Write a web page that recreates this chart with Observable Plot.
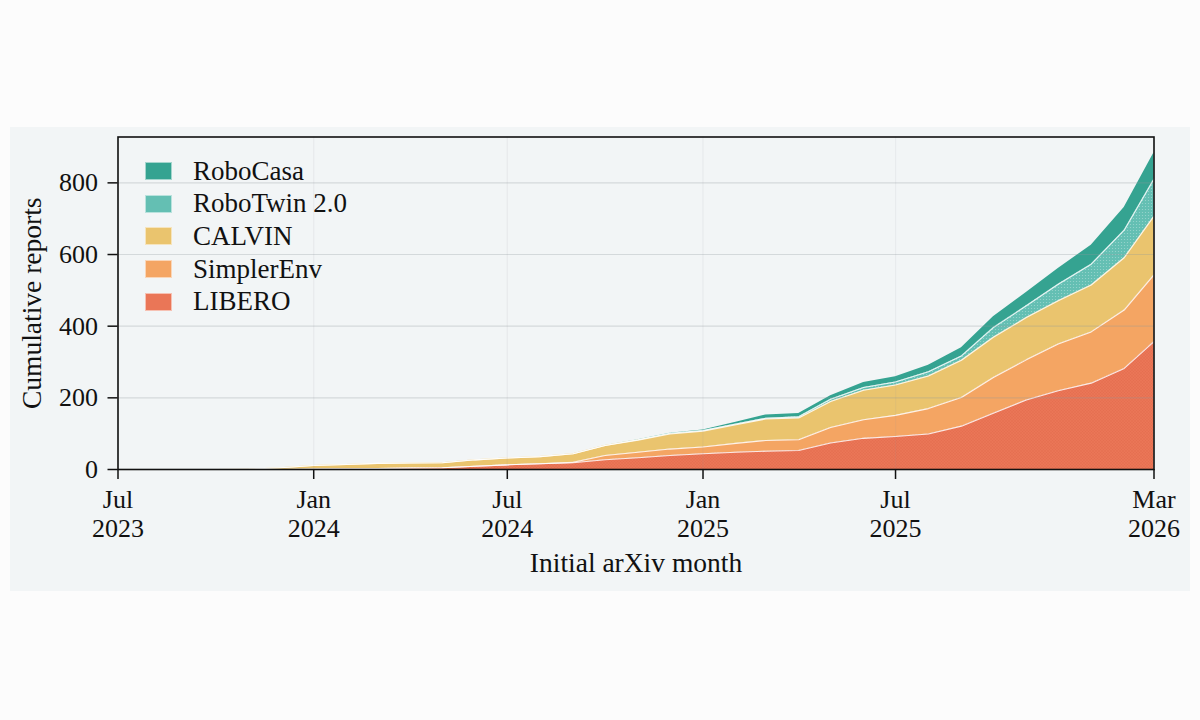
<!DOCTYPE html>
<html>
<head>
<meta charset="utf-8">
<script src="https://cdn.jsdelivr.net/npm/d3@7"></script>
<script src="https://cdn.jsdelivr.net/npm/@observablehq/plot@0.6"></script>
<style>
  html, body { margin: 0; padding: 0; background: #fcfcfc; width: 1200px; height: 720px; overflow: hidden; }
  #panel { position: absolute; left: 10px; top: 127px; width: 1180px; height: 464px; background: #f2f5f6; }
  #chart { position: absolute; left: 0; top: 0; }
  #legend { position: absolute; left: 135px; top: 28px; font-family: "Liberation Serif", serif; font-size: 27px; color: #111; }
  .row { display: flex; align-items: center; height: 32.6px; }
  .sw { width: 25px; height: 16px; border: 1px solid rgba(255,255,255,0.55); margin-right: 21px; }
</style>
</head>
<body>
<div id="panel"><div id="chart"></div><div id="legend"></div></div>
<script>
// ---- data ----
const months = ["2023-10","2023-11","2023-12","2024-01","2024-02","2024-03","2024-04","2024-05","2024-06","2024-07",
  "2024-08","2024-09","2024-10","2024-11","2024-12","2025-01","2025-02","2025-03","2025-04","2025-05",
  "2025-06","2025-07","2025-08","2025-09","2025-10","2025-11","2025-12","2026-01","2026-02","2026-03"];
const libero     = [0,0,0,1,2,3,4,5,9,13,16,19,27,33,39,44,48,51,53,74,87,92,99,121,157,194,220,241,282,357];
const simplerEnv = [0,0,0,0,0,0,0,0,0,0,0,1,12,15,18,19,25,30,30,43,52,59,71,80,100,112,130,143,163,186];
const calvin     = [0,1,5,10,12,14,14,14,18,19,20,24,28,34,42,44,52,60,61,73,82,85,91,104,112,118,121,131,146,164];
const roboTwin   = [0,0,0,0,0,0,0,0,0,0,0,0,0,1,2,2,2,2,3,6,8,8,12,12,27,33,46,58,77,104];
const roboCasa   = [0,0,0,0,0,0,0,0,0,0,0,0,0,0,0,1,5,9,9,10,14,15,18,23,30,37,44,53,63,73];

const seriesNames = ["LIBERO","SimplerEnv","CALVIN","RoboTwin 2.0","RoboCasa"];
const seriesValues = [libero, simplerEnv, calvin, roboTwin, roboCasa];
const legendOrder = ["RoboCasa","RoboTwin 2.0","CALVIN","SimplerEnv","LIBERO"];
const colors = {"LIBERO":"#ea7657","SimplerEnv":"#f4a563","CALVIN":"#eac46e","RoboTwin 2.0":"#64bfb3","RoboCasa":"#35a391"};
const patterns = {"LIBERO":"url(#xhatch)","RoboTwin 2.0":"url(#dots)"};

const xTickLabels = ["2023-07","2024-01","2024-07","2025-01","2025-07","2026-03"];
const yTicks = [0,200,400,600,800];
const xDomain = ["2023-07","2026-03"];
const yMax = 928;

// ---- build table ----
const parse = d3.utcParse("%Y-%m");
const table = [];
seriesNames.forEach((s, k) => {
  months.forEach((m, i) => table.push({date: parse(m), series: s, value: seriesValues[k][i]}));
});
const tableLines = table.filter(d => d.series !== "RoboCasa");
const xTicks = xTickLabels.map(parse);
const fmt = d3.utcFormat("%b");
const fmtY = d3.utcFormat("%Y");

const chart = Plot.plot({
  width: 1180,
  height: 464,
  marginLeft: 107.5,
  marginRight: 36.5,
  marginTop: 9.5,
  marginBottom: 122,
  style: {fontFamily: "'Liberation Serif', serif", fontSize: "26px", color: "#111", background: "transparent", overflow: "visible"},
  x: {type: "utc", domain: xDomain.map(parse)},
  y: {domain: [0, yMax]},
  color: {type: "identity"},
  marks: [
    Plot.areaY(table, {x: "date", y: "value", z: "series", order: seriesNames, fill: d => colors[d.series], curve: "linear"}),
    Plot.areaY(table, {x: "date", y: "value", z: "series", order: seriesNames, fill: d => patterns[d.series] || "none", curve: "linear"}),
    Plot.lineY(tableLines, Plot.stackY2({x: "date", y: "value", z: "series", order: seriesNames, stroke: "white", strokeWidth: 1.1, strokeOpacity: 0.85})),
    Plot.ruleY(yTicks.slice(1), {stroke: "#8f979b", strokeOpacity: 0.3, strokeWidth: 1.2}),
    Plot.ruleX(xTicks, {stroke: "#8f979b", strokeOpacity: 0.1, strokeWidth: 1.2}),
    Plot.frame({stroke: "#111", strokeWidth: 1.6}),
    Plot.axisY({ticks: yTicks, tickSize: 10, tickPadding: 10, label: null, stroke: "#111", strokeWidth: 1.5}),
    Plot.axisX({ticks: xTicks, tickFormat: d => fmt(d) + "\n" + fmtY(d), tickSize: 10, tickPadding: 9, label: null, lineHeight: 1.08, stroke: "#111", strokeWidth: 1.5}),
    Plot.text(["Cumulative reports"], {frameAnchor: "left", textAnchor: "middle", lineAnchor: "middle", text: d => d, rotate: -90, dx: -86, fill: "#111", fontSize: 27.5}),
    Plot.text(["Initial arXiv month"], {frameAnchor: "bottom", textAnchor: "middle", lineAnchor: "middle", text: d => d, dy: 94, fill: "#111", fontSize: 27.5})
  ]
});

// pattern definitions
const ns = "http://www.w3.org/2000/svg";
const defs = document.createElementNS(ns, "defs");
defs.innerHTML = `
  <pattern id="dots" width="3" height="3" patternUnits="userSpaceOnUse">
    <circle cx="1.5" cy="1.5" r="0.6" fill="#ffffff" fill-opacity="0.35"></circle>
  </pattern>
  <pattern id="xhatch" width="3" height="3" patternUnits="userSpaceOnUse">
    <path d="M0,0L3,3M3,0L0,3" stroke="#d65f42" stroke-opacity="0.35" stroke-width="0.5"></path>
  </pattern>`;
chart.insertBefore(defs, chart.firstChild);
document.getElementById("chart").appendChild(chart);

// legend
const legend = document.getElementById("legend");
legendOrder.forEach(s => {
  const row = document.createElement("div");
  row.className = "row";
  const sw = document.createElement("div");
  sw.className = "sw";
  sw.style.background = colors[s];
  const t = document.createElement("span");
  t.textContent = s;
  row.appendChild(sw);
  row.appendChild(t);
  legend.appendChild(row);
});
</script>
</body>
</html>
